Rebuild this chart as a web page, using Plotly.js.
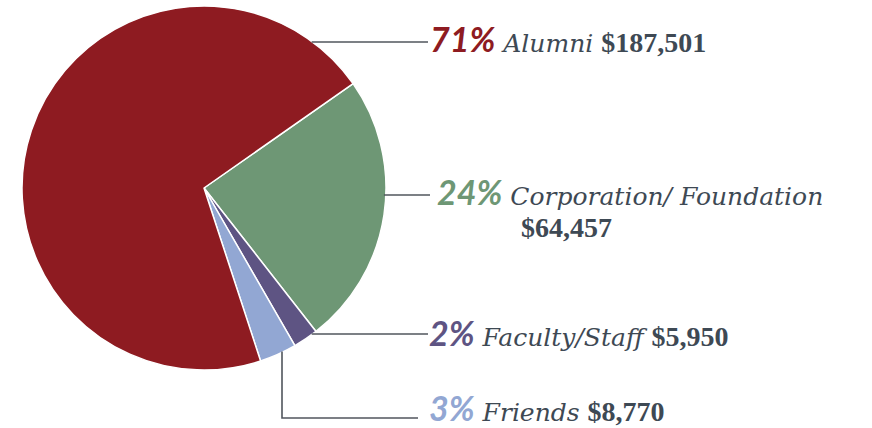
<!DOCTYPE html><html><head><meta charset="utf-8">
<script src="https://cdn.plot.ly/plotly-3.0.1.min.js"></script>
<style>html,body{margin:0;padding:0;background:#fff}#chart{width:872px;height:428px}</style>
</head><body><div id="chart"></div><script>
const categories = ["Corporation/ Foundation", "Faculty/Staff", "Friends", "Alumni"];
const amounts = [64457, 5950, 8770, 187501];
const percentLabels = ["24%", "2%", "3%", "71%"];
const amountLabels = ["$64,457", "$5,950", "$8,770", "$187,501"];
const colors = ["#6E9775", "#5E5483", "#92A7D3", "#8E1B21"];

const W = 872, H = 428;
const cx = 204, cy = 188, R = 182;
const X = p => p / W, Y = p => 1 - p / H;

const pctFont = "Lato, 'Open Sans', sans-serif";
const serif = "'DejaVu Serif', serif";
const amtFont = "'Liberation Serif', serif";
const textColor = "#3E4954";

function amt(i) {
  return '<span style="font-family:' + amtFont + ';font-weight:bold;font-size:28px">' + amountLabels[i] + '</span>';
}
function label(i, withAmount) {
  let s = '<span style="font-family:' + pctFont + ';font-style:italic;font-weight:bold;font-size:34px;color:' + colors[i] + '">' + percentLabels[i] + '</span> ' +
          '<span style="font-style:italic">' + categories[i] + '</span>';
  if (withAmount) s += ' ' + amt(i);
  return s;
}

// label placement (pixel positions of text rows)
const rows = [
  {i: 3, x: 428, y: 39, amount: true},
  {i: 0, x: 435, y: 191, amount: false},
  {i: 1, x: 427, y: 332, amount: true},
  {i: 2, x: 427, y: 407, amount: true}
];

const annotations = rows.map(r => ({
  x: X(r.x), y: Y(r.y), xref: 'paper', yref: 'paper', xanchor: 'left', yanchor: 'middle',
  showarrow: false, text: label(r.i, r.amount),
  font: {family: serif, size: 25, color: textColor}
}));
annotations.push({
  x: X(519), y: Y(228), xref: 'paper', yref: 'paper', xanchor: 'left', yanchor: 'middle',
  showarrow: false, text: amt(0),
  font: {family: serif, size: 25, color: textColor}
});

const lineStyle = {color: '#51565D', width: 1.6};
const edgeX = y => cx + Math.sqrt(R * R - (y - cy) * (y - cy));
const edgeY = x => cy + Math.sqrt(R * R - (x - cx) * (x - cx));
const shapes = [
  {type: 'line', xref: 'paper', yref: 'paper', x0: X(edgeX(42) - 1), y0: Y(42), x1: X(428), y1: Y(42), line: lineStyle},
  {type: 'line', xref: 'paper', yref: 'paper', x0: X(edgeX(195) - 2), y0: Y(195), x1: X(430), y1: Y(195), line: lineStyle},
  {type: 'line', xref: 'paper', yref: 'paper', x0: X(edgeX(334) - 1), y0: Y(334), x1: X(428), y1: Y(334), line: lineStyle},
  {type: 'path', xref: 'paper', yref: 'paper',
   path: 'M' + X(282) + ',' + Y(edgeY(282) - 1) + ' L' + X(282) + ',' + Y(418) + ' L' + X(418) + ',' + Y(418),
   line: lineStyle}
];

const data = [{
  type: 'pie', labels: categories, values: amounts, sort: false, direction: 'clockwise',
  rotation: 55, textinfo: 'none', hoverinfo: 'label+value+percent',
  marker: {colors: colors, line: {color: '#ffffff', width: 1.5}},
  domain: {x: [X(cx - R), X(cx + R)], y: [Y(cy + R), Y(cy - R)]}, showlegend: false
}];

const layout = {
  width: W, height: H, margin: {l: 0, r: 0, t: 0, b: 0},
  paper_bgcolor: '#ffffff', plot_bgcolor: '#ffffff', showlegend: false,
  annotations: annotations, shapes: shapes
};
Plotly.newPlot('chart', data, layout, {displayModeBar: false, staticPlot: true});
</script></body></html>
